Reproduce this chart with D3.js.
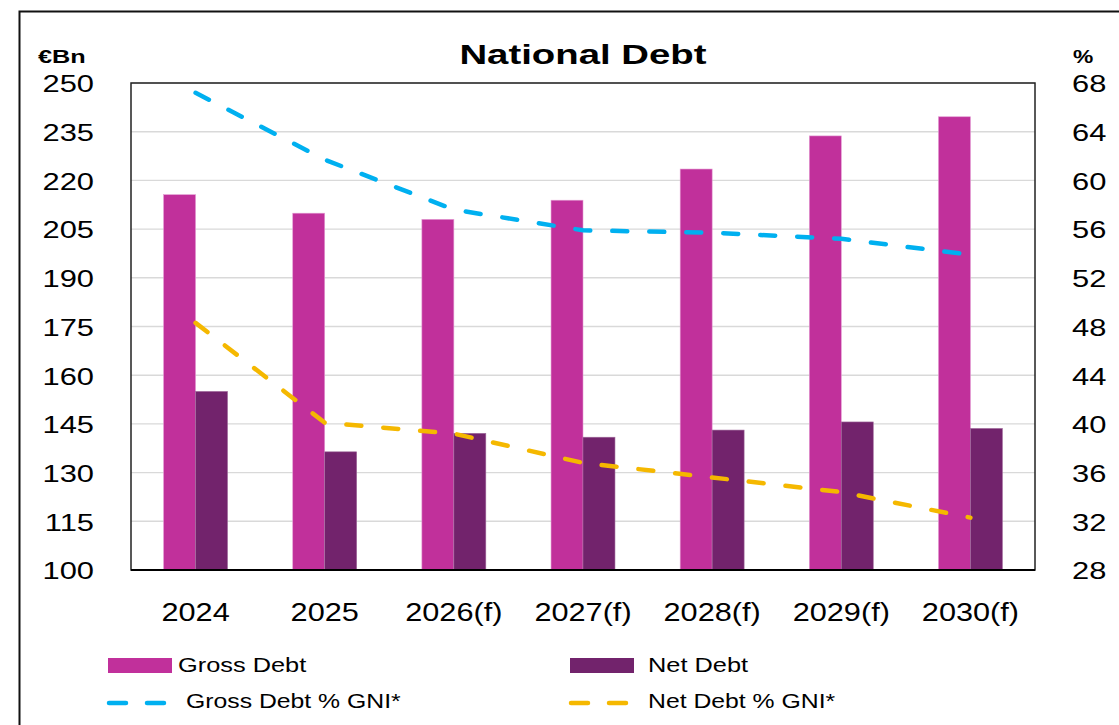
<!DOCTYPE html>
<html>
<head>
<meta charset="utf-8">
<script src="https://cdn.jsdelivr.net/npm/d3@7"></script>
<style>
  body { margin: 0; background: #fff; }
  svg { display: block; font-family: 'Liberation Sans', Arial, sans-serif; }
</style>
</head>
<body>
<div id="chart"></div>
<script>
// values
var years = ['2024', '2025', '2026(f)', '2027(f)', '2028(f)', '2029(f)', '2030(f)'];
var grossDebt = [215.6, 209.9, 208.0, 213.9, 223.5, 233.7, 239.6];
var netDebt = [155.0, 136.4, 142.1, 140.9, 143.1, 145.6, 143.6];
var grossPct = [67.2, 61.7, 57.6, 55.9, 55.7, 55.2, 53.9];
var netPct = [48.3, 40.1, 39.2, 36.8, 35.6, 34.4, 32.3];
var leftTicks = [100, 115, 130, 145, 160, 175, 190, 205, 220, 235, 250];
var rightTicks = [28, 32, 36, 40, 44, 48, 52, 56, 60, 64, 68];
var barSeries = ['Gross Debt', 'Net Debt'];
var lineSeries = ['Gross Debt % GNI*', 'Net Debt % GNI*'];

var colors = {
  gross: '#c1309b',
  net: '#72236c',
  grossLine: '#00b0f0',
  netLine: '#f5b800'
};

var width = 1119, height = 725;
var margin = {top: 83, right: 84, bottom: 155, left: 131};
var innerW = width - margin.left - margin.right;
var innerH = height - margin.top - margin.bottom;

// make Liberation glyphs as wide as the reference face
function stretch(sel, k) {
  sel.each(function() {
    var w = this.getComputedTextLength();
    d3.select(this)
      .attr('textLength', w * k)
      .attr('lengthAdjust', 'spacingAndGlyphs');
  });
}

var svg = d3.select('#chart').append('svg')
  .attr('width', width)
  .attr('height', height);

// outer frame (runs off the right and bottom of the picture)
svg.append('rect')
  .attr('x', 19.5).attr('y', 11.5)
  .attr('width', 1140).attr('height', 760)
  .attr('fill', 'none')
  .attr('stroke', '#111')
  .attr('stroke-width', 2);

var g = svg.append('g')
  .attr('transform', 'translate(' + margin.left + ',' + margin.top + ')');

var x0 = d3.scaleBand()
  .domain(years)
  .range([0, innerW]);

var x1 = d3.scaleBand()
  .domain(['gross', 'net'])
  .range([0, x0.bandwidth()])
  .paddingOuter(1.02);

var yLeft = d3.scaleLinear().domain([100, 250]).range([innerH, 0]);
var yRight = d3.scaleLinear().domain([28, 68]).range([innerH, 0]);

// gridlines
g.append('g')
  .selectAll('line')
  .data(leftTicks)
  .enter()
  .append('line')
  .attr('x1', 0).attr('x2', innerW)
  .attr('y1', function(d) { return yLeft(d); })
  .attr('y2', function(d) { return yLeft(d); })
  .attr('stroke', '#d9d9d9')
  .attr('stroke-width', 1.4);

// bars
var groups = g.selectAll('.year')
  .data(years)
  .enter()
  .append('g')
  .attr('class', 'year')
  .attr('transform', function(d) { return 'translate(' + x0(d) + ',0)'; });

groups.append('rect')
  .attr('x', x1('gross'))
  .attr('width', x1.bandwidth())
  .attr('y', function(d, i) { return yLeft(grossDebt[i]); })
  .attr('height', function(d, i) { return innerH - yLeft(grossDebt[i]); })
  .attr('fill', colors.gross)
  .attr('stroke', '#e39ad2')
  .attr('stroke-width', 0.6);

groups.append('rect')
  .attr('x', x1('net'))
  .attr('width', x1.bandwidth())
  .attr('y', function(d, i) { return yLeft(netDebt[i]); })
  .attr('height', function(d, i) { return innerH - yLeft(netDebt[i]); })
  .attr('fill', colors.net)
  .attr('stroke', '#a06a9c')
  .attr('stroke-width', 0.6);

// dashed % lines
var line = d3.line()
  .x(function(d, i) { return x0(years[i]) + x0.bandwidth() / 2; })
  .y(function(d) { return yRight(d); });

g.append('path')
  .datum(grossPct)
  .attr('d', line)
  .attr('fill', 'none')
  .attr('stroke', colors.grossLine)
  .attr('stroke-width', 4.5)
  .attr('stroke-linecap', 'round')
  .attr('stroke-dasharray', '15,22');

g.append('path')
  .datum(netPct)
  .attr('d', line)
  .attr('fill', 'none')
  .attr('stroke', colors.netLine)
  .attr('stroke-width', 4.5)
  .attr('stroke-linecap', 'round')
  .attr('stroke-dasharray', '15,22');

// plot border
g.append('rect')
  .attr('width', innerW)
  .attr('height', innerH)
  .attr('fill', 'none')
  .attr('stroke', '#222')
  .attr('stroke-width', 1.5);
g.append('line')
  .attr('x1', 0).attr('x2', innerW)
  .attr('y1', innerH).attr('y2', innerH)
  .attr('stroke', '#000')
  .attr('stroke-width', 2.2);

// axes
var leftAxis = g.append('g')
  .call(d3.axisLeft(yLeft).tickValues(leftTicks).tickSize(0).tickPadding(37));
var rightAxis = g.append('g')
  .attr('transform', 'translate(' + innerW + ',0)')
  .call(d3.axisRight(yRight).tickValues(rightTicks).tickSize(0).tickPadding(37));
var bottomAxis = g.append('g')
  .attr('transform', 'translate(0,' + innerH + ')')
  .call(d3.axisBottom(x0).tickSize(0));

[leftAxis, rightAxis, bottomAxis].forEach(function(a) {
  a.select('.domain').remove();
  a.selectAll('text')
    .attr('fill', '#000')
    .style('font-family', "'Liberation Sans', Arial, sans-serif");
});

leftAxis.selectAll('text').style('font-size', '24.5px').attr('dy', '0.36em');
rightAxis.selectAll('text').style('font-size', '24.5px').attr('dy', '0.36em');
bottomAxis.selectAll('text')
  .style('font-size', '26px')
  .attr('dy', null)
  .attr('y', 50.5);

stretch(leftAxis.selectAll('text'), 1.26);
stretch(rightAxis.selectAll('text'), 1.26);
stretch(bottomAxis.selectAll('text'), 1.18);

// title and unit labels
var title = svg.append('text')
  .attr('x', margin.left + innerW / 2)
  .attr('y', 64)
  .attr('text-anchor', 'middle')
  .style('font-size', '27px')
  .style('font-weight', 'bold')
  .text('National Debt');
stretch(title, 1.42);

var unitL = svg.append('text')
  .attr('x', 38).attr('y', 63)
  .style('font-size', '19px')
  .style('font-weight', 'bold')
  .text('€Bn');
stretch(unitL, 1.33);

var unitR = svg.append('text')
  .attr('x', 1073).attr('y', 62.5)
  .style('font-size', '19px')
  .style('font-weight', 'bold')
  .text('%');
stretch(unitR, 1.2);

// legend
var legend = svg.append('g');
var barLegendX = [108, 570];
var barColors = [colors.gross, colors.net];
var lineColors = [colors.grossLine, colors.netLine];

barSeries.forEach(function(name, i) {
  legend.append('rect')
    .attr('x', barLegendX[i]).attr('y', 658)
    .attr('width', 64).attr('height', 15)
    .attr('fill', barColors[i]);
  var t = legend.append('text')
    .attr('x', barLegendX[i] + (i === 0 ? 70 : 78))
    .attr('y', 672)
    .style('font-size', '19.5px')
    .text(name);
  stretch(t, 1.3);
});

lineSeries.forEach(function(name, i) {
  legend.append('line')
    .attr('x1', barLegendX[i] + 1).attr('x2', barLegendX[i] + 59)
    .attr('y1', 703).attr('y2', 703)
    .attr('stroke', lineColors[i])
    .attr('stroke-width', 4.5)
    .attr('stroke-linecap', 'round')
    .attr('stroke-dasharray', '17,21');
  var t = legend.append('text')
    .attr('x', barLegendX[i] + 78)
    .attr('y', 708)
    .style('font-size', '19.5px')
    .text(name);
  stretch(t, 1.27);
});
</script>
</body>
</html>
